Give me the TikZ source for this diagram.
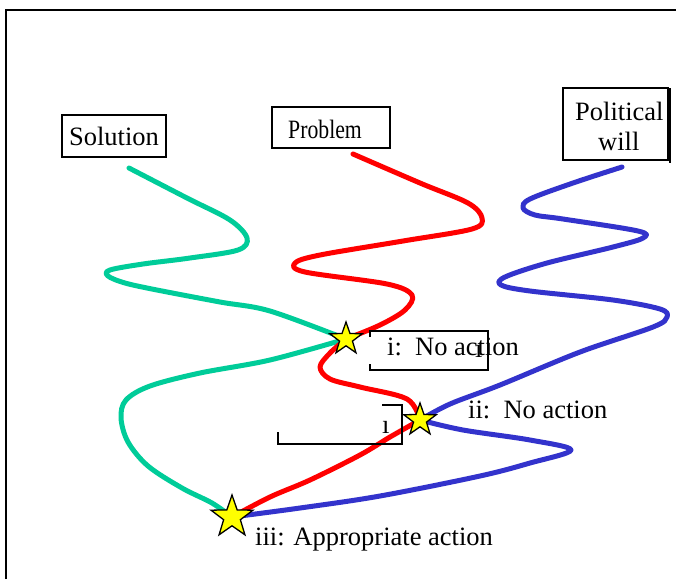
\documentclass[tikz,border=0pt]{standalone}
\usepackage{fontspec}
\setmainfont{Liberation Serif}
\usetikzlibrary{shapes.geometric}
\definecolor{solgreen}{RGB}{0,204,153}
\definecolor{probred}{RGB}{255,0,0}
\definecolor{willblue}{RGB}{51,51,204}
\definecolor{staryellow}{RGB}{255,255,0}
\pgfdeclarelayer{strands}
\pgfsetlayers{strands,main}
\begin{document}
\begin{tikzpicture}[x=1pt,y=-1pt,
  lbl/.style={font=\fontsize{26.5}{28}\selectfont, inner sep=0pt, anchor=base west},
  tagbox/.style={draw, line width=1.6pt, inner sep=0pt},
  rule/.style={line width=1.6pt},
  strand/.style={line width=5pt, line cap=round, line join=round},
  marker/.style={star, star points=5, star point ratio=2.5, draw=black,
    line width=1.3pt, fill=staryellow, inner sep=0pt}]
\useasboundingbox (0,0) rectangle (676,579);

% outer frame (top and left edges)
\draw[line width=2pt] (6,579) -- (6,10) -- (677,10);

% title boxes
\node[tagbox, font=\fontsize{26.5}{28}\selectfont, minimum width=104pt, minimum height=42pt] (sol) at (114,136) {Solution};
\node[tagbox, minimum width=118pt, minimum height=41pt] (prob) at (331,127.5) {};
\node[lbl] (probtext) at (288,138) {\scalebox{0.82}[1]{Problem}};
\node[tagbox, minimum width=105pt, minimum height=72pt] (will) at (615.5,124) {};
\node[lbl] (willtext1) at (575,120) {Political};
\node[lbl] (willtext2) at (598,150) {will};
\draw[rule] (670,88) -- (670,163);

% free ends of the strands and the meeting points
\coordinate (gs) at (129,168);
\coordinate (rs) at (353,154);
\coordinate (bs) at (622,167);
\node[marker, minimum size=34pt] (s1) at (346,339) {};
\node[marker, minimum size=34pt] (s2) at (420,420) {};
\node[marker, minimum size=44pt] (s3) at (232,517) {};

\begin{pgfonlayer}{strands}
% solution strand
\draw[strand, solgreen] plot[smooth, tension=0.55] coordinates {(gs) (187,198) (230,220) (247,238) (238,250) (190,258) (143,264) (110,270) (108,276) (125,283) (157,290) (220,302) (270,311) (s1.center)};
\draw[strand, solgreen] plot[smooth, tension=0.55] coordinates {(s1.center) (270,360) (200,373) (150,386) (126,400) (121,418) (128,442) (148,466) (182,488) (212,503) (s3.center)};

% problem strand
\draw[strand, probred] plot[smooth, tension=0.55] coordinates {(rs) (420,183) (468,203) (482,218) (472,229) (403,241) (320,255) (295,263) (305,272) (387,284) (412,295) (405,310) (380,325) (s1.center)};
\draw[strand, probred] plot[smooth, tension=0.55] coordinates {(s1.center) (330,353) (320,367) (330,379) (360,387) (407,399) (s2.center)};
\draw[strand, probred] plot[smooth, tension=0.55] coordinates {(s2.center) (390,437) (360,455) (310,480) (270,497) (s3.center)};

% political will strand
\draw[strand, willblue] plot[smooth, tension=0.55] coordinates {(bs) (573,183) (530,199) (523,208) (535,215) (563,219) (638,231) (643,238) (613,247) (547,263) (505,277) (501,285) (530,291) (613,300) (660,309) (667,317) (653,327) (580,352) (500,385) (450,404) (s2.center)};
\draw[strand, willblue] plot[smooth, tension=0.55] coordinates {(s2.center) (463,430) (530,440) (571,450) (530,463) (480,476) (380,496) (300,508) (s3.center)};
\end{pgfonlayer}

% callout frames
\draw[rule] (370,337) -- (370,331) -- (488,331) -- (488,370) -- (370,370) -- (370,364);
\draw[rule] (382,405) -- (402,405) -- (402,444) -- (278,444) -- (278,432);

% labels
\node[lbl] (ti) at (387,355) {i:\ \ No action};
\node[lbl] (tii) at (468,418) {ii:\ \ No action};
\node[lbl] (tiii) at (255,545) {iii: Appropriate action};
\node[lbl] (mark1) at (475,357) {ı};
\node[lbl] (mark2) at (382,433) {ı};
\end{tikzpicture}
\end{document}
